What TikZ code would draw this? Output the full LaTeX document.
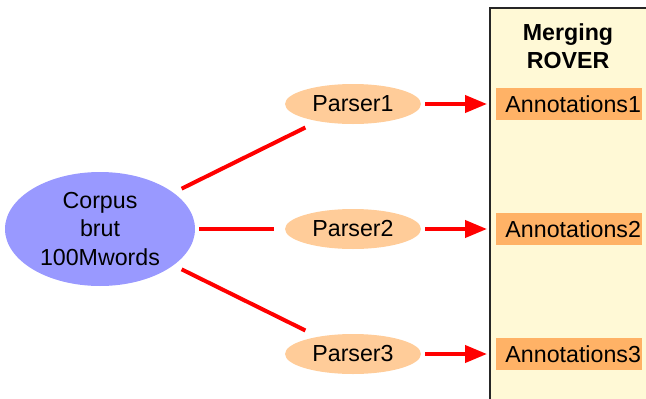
\documentclass[tikz,border=0pt]{standalone}
\usepackage{fontspec}
\setmainfont{Liberation Sans}
\usetikzlibrary{arrows.meta,shapes.geometric}
\definecolor{corpusblue}{HTML}{9999FF}
\definecolor{parserorange}{HTML}{FFCC99}
\definecolor{annotorange}{HTML}{FFB266}
\definecolor{mergeyellow}{HTML}{FFF9D6}
\tikzset{
  txt/.style={font=\fontsize{23.2}{28.5}\selectfont},
  corpusnode/.style={ellipse, fill=corpusblue, minimum width=190pt, minimum height=114pt, inner sep=0pt, align=center, txt},
  parsernode/.style={ellipse, fill=parserorange, minimum width=136pt, minimum height=40pt, inner sep=0pt, txt},
  annotnode/.style={rectangle, fill=annotorange, minimum height=32pt, minimum width=146pt,
    inner xsep=0pt, inner ysep=0pt, anchor=west, txt, execute at begin node={\hspace*{8pt}}},
  link/.style={red, line width=4pt},
  feed/.style={red, line width=4pt, -{Triangle[length=22pt,width=17pt]}},
}
\begin{document}
\begin{tikzpicture}[x=1pt,y=-1pt]
  \useasboundingbox (0,0) rectangle (646,399);
  % merging panel
  \begin{scope}
    \clip (0,0) rectangle (646,399);
    \draw[fill=mergeyellow, line width=2pt, draw=black!85] (490,8) rectangle (660,410);
  \end{scope}
  \node[txt, font=\fontsize{23.2}{28}\selectfont\bfseries, align=center] (merge) at (568,46) {Merging\\ROVER};

  % corpus and parsers
  \node[corpusnode] (corpus) at (100,229) {Corpus\\brut\\100Mwords};
  \node[parsernode] (p1) at (353,104) {Parser1};
  \node[parsernode] (p2) at (353,229) {Parser2};
  \node[parsernode] (p3) at (353,354) {Parser3};

  % annotations
  \node[annotnode] (a1) at (496,104) {Annotations1};
  \node[annotnode] (a2) at (496,229) {Annotations2};
  \node[annotnode] (a3) at (496,354) {Annotations3};

  % corpus feeds each parser
  \draw[link, shorten <=9pt, shorten >=14pt] (corpus) -- (p1);
  \draw[link, shorten <=4pt, shorten >=11pt] (corpus) -- (p2);
  \draw[link, shorten <=9pt, shorten >=14pt] (corpus) -- (p3);

  % parser outputs
  \draw[feed, shorten <=4pt, shorten >=9pt] (p1) -- (a1);
  \draw[feed, shorten <=4pt, shorten >=9pt] (p2) -- (a2);
  \draw[feed, shorten <=4pt, shorten >=9pt] (p3) -- (a3);
\end{tikzpicture}
\end{document}
